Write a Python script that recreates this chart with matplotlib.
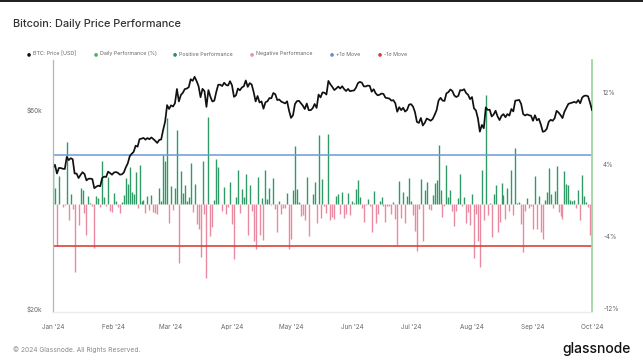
import pandas as pd
import matplotlib
matplotlib.use("Agg")
from matplotlib import pyplot as plt
from matplotlib import dates as mdates
from matplotlib import transforms

plt.rcParams['font.family'] = ['Inter', 'DejaVu Sans']

# daily BTC price (USD), 2024-01-01 .. 2024-10-01
price = [
    # Jan
    44168, 44958, 42848, 44180, 44162, 43989, 43943, 46970, 46139, 46628,
    46368, 42853, 42842, 41796, 42511, 43154, 42742, 41262, 41619, 41665,
    41545, 39507, 39845, 40077, 39934, 41816, 42120, 42035, 43288, 42952, 42582,
    # Feb
    43082, 43200, 43011, 42583, 42658, 43084, 44318, 45301, 47147, 47771,
    48293, 49958, 49699, 51811, 51938, 52160, 51663, 52122, 51780, 52284,
    51839, 51304, 50731, 51571, 51733, 54522, 57085, 62504, 61198,
    # Mar
    62440, 62029, 63167, 68330, 63801, 66106, 66925, 68300, 68498, 69019,
    72123, 71482, 73083, 71397, 69403, 65315, 68390, 67548, 61912, 67913,
    65491, 63779, 64062, 67234, 69958, 69987, 69455, 70744, 69892, 69645, 71333,
    # Apr
    69702, 65446, 65980, 68508, 67837, 68896, 69362, 71631, 69139, 70587,
    70060, 67195, 63821, 65738, 63426, 63811, 61276, 63512, 63843, 64994,
    64926, 66837, 66407, 64276, 64481, 63755, 63419, 63113, 63841, 60636,
    # May
    58254, 59123, 62889, 63892, 64031, 63161, 62334, 61187, 63049, 60793,
    60794, 61448, 62901, 61553, 66267, 65232, 67051, 66940, 66278, 71448,
    70136, 69122, 67929, 68526, 69265, 68518, 69394, 68296, 67578, 68364, 67491,
    # Jun
    67706, 67751, 68804, 70567, 71082, 70757, 69342, 69305, 69648, 69512,
    67332, 68241, 66757, 66011, 66192, 66639, 66491, 65140, 64961, 64828,
    64097, 64253, 63180, 60277, 61804, 60811, 61605, 60320, 60887, 62678,
    # Jul
    62851, 62029, 60173, 56977, 56663, 58231, 55857, 56714, 58052, 57725,
    57344, 57899, 59231, 60787, 64114, 65092, 64118, 63974, 66710, 67164,
    68154, 67585, 65927, 65372, 65777, 67912, 67813, 68256, 66819, 66201, 64620,
    # Aug
    65357, 61415, 60680, 58116, 53992, 56034, 55027, 61710, 60881, 60945,
    58719, 59354, 60610, 58739, 57561, 58894, 59478, 58483, 59493, 59012,
    61175, 60381, 64094, 64178, 64333, 62880, 59504, 59027, 59389, 59119, 58969,
    # Sep
    57326, 59113, 57485, 57971, 56160, 53949, 54140, 54841, 57019, 57649,
    57343, 58127, 60571, 60005, 59182, 58192, 60309, 61649, 62940, 63192,
    63394, 63648, 63329, 64301, 63143, 65181, 65790, 65888, 65635, 63329,
    # Oct
    60837,
]

# daily performance (%)
perf = [
    # Jan
    4.5, 1.8, -4.7, 3.1, -0.0, -0.4, -0.1, 6.9, -1.8, 1.1,
    -0.6, -7.6, -0.0, -2.4, 1.7, 1.5, -1.0, -3.5, 0.9, 0.1,
    -0.3, -4.9, 0.9, 0.6, -0.4, 4.7, 0.7, -0.2, 3.0, -0.8, -0.9,
    # Feb
    1.2, 0.3, -0.4, -1.0, 0.2, 1.0, 2.9, 2.2, 4.1, 1.3,
    1.1, 3.5, -0.5, 4.3, 0.3, 0.4, -1.0, 0.9, -0.7, 1.0,
    -0.9, -1.0, -1.1, 1.7, 0.3, 5.4, 4.7, 9.5, -2.1,
    # Mar
    2.0, -0.7, 1.8, 8.2, -6.6, 3.6, 1.2, 2.1, 0.3, 0.8,
    4.5, -0.9, 2.2, -2.3, -2.8, -5.9, 4.7, -1.2, -8.3, 9.7,
    -3.6, -2.6, 0.4, 5.0, 4.1, 0.0, -0.8, 1.9, -1.2, -0.4, 2.4,
    # Apr
    -2.3, -6.1, 0.8, 3.8, -1.0, 1.6, 0.7, 3.3, -3.5, 2.1,
    -0.8, -4.1, -5.0, 3.0, -3.5, 0.6, -4.0, 3.7, 0.5, 1.8,
    -0.1, 2.9, -0.6, -3.2, 0.3, -1.1, -0.5, -0.5, 1.2, -5.0,
    # May
    -3.9, 1.5, 6.4, 1.6, 0.2, -1.4, -1.3, -1.8, 3.0, -3.6,
    0.0, 1.1, 2.4, -2.1, 7.7, -1.6, 2.8, -0.2, -1.0, 7.8,
    -1.8, -1.5, -1.7, 0.9, 1.1, -1.1, 1.3, -1.6, -1.1, 1.2, -1.3,
    # Jun
    0.3, 0.1, 1.6, 2.6, 0.7, -0.5, -2.0, -0.1, 0.5, -0.2,
    -3.1, 1.4, -2.2, -1.1, 0.3, 0.7, -0.2, -2.0, -0.3, -0.2,
    -1.1, 0.2, -1.7, -4.6, 2.5, -1.6, 1.3, -2.1, 0.9, 2.9,
    # Jul
    0.3, -1.3, -3.0, -5.3, -0.6, 2.8, -4.1, 1.5, 2.4, -0.6,
    -0.7, 1.0, 2.3, 2.6, 6.5, 1.5, -1.5, -0.2, 4.3, 0.7,
    1.5, -0.8, -2.5, -0.8, 0.6, 3.3, -0.2, 0.7, -2.1, -0.9, -2.4,
    # Aug
    1.1, -6.0, -1.2, -4.2, -7.1, 3.8, -1.8, 12.1, -1.3, 0.1,
    -3.7, 1.1, 2.1, -3.1, -2.0, 2.3, 1.0, -1.7, 1.7, -0.8,
    3.7, -1.3, 6.2, 0.1, 0.2, -2.3, -5.4, -0.8, 0.6, -0.5, -0.3,
    # Sep
    -2.8, 3.1, -2.8, 0.9, -3.1, -3.9, 0.4, 1.3, 4.0, 1.1,
    -0.5, 1.4, 4.2, -0.9, -1.4, -1.7, 3.6, 2.2, 2.1, 0.4,
    0.3, 0.4, -0.5, 1.5, -1.8, 3.2, 0.9, 0.2, -0.4, -3.5,
    # Oct
    -3.9,
]

sigma_up = 5.4      # +1 sigma move (%)
sigma_down = -4.75  # -1 sigma move (%)

price_ticks = [20000, 60000]
price_labels = ['$20k', '$60k']
perf_ticks = [-12, -4, 4, 12]
perf_labels = ['-12%', '-4%', '4%', '12%']

legend_items = [
    ('BTC: Price [USD]', '#111111'),
    ('Daily Performance (%)', '#4caf50'),
    ('Positive Performance', '#2e8b5f'),
    ('Negative Performance', '#ef8fa3'),
    ('+1σ Move', '#5b8fd6'),
    ('-1σ Move', '#d93a3a'),
]


def main():
    dates = pd.date_range('2024-01-01', periods=len(price), freq='D')
    up_dates = [d for d, p in zip(dates, perf) if p > 0]
    up_vals = [p for p in perf if p > 0]
    dn_dates = [d for d, p in zip(dates, perf) if p < 0]
    dn_vals = [p for p in perf if p < 0]

    W, H = 643, 362
    fig = plt.figure(figsize=(W / 100, H / 100), dpi=100)
    fig.patch.set_facecolor('white')

    left, right, top, bottom = 53, 592, 60, 311.5
    ax = fig.add_axes([left / W, 1 - bottom / H, (right - left) / W, (bottom - top) / H])
    ax2 = ax.twinx()
    ax.set_zorder(ax2.get_zorder() + 1)
    ax.patch.set_visible(False)

    # performance bars
    ax2.vlines(up_dates, 0, up_vals, color='#2f9a66', lw=1.0)
    ax2.vlines(dn_dates, dn_vals, 0, color='#e98aa0', lw=1.0)
    ax2.plot(dates, [sigma_up] * len(dates), color='#6b9bd2', lw=1.1)
    ax2.plot(dates, [sigma_down] * len(dates), color='#d9423d', lw=1.2)
    ax2.set_ylim(-12, 16)
    ax2.set_yticks(perf_ticks)
    ax2.set_yticklabels(perf_labels)

    # price line
    ax.plot(dates, price, color='#111111', lw=1.25)
    ax.set_yscale('log')
    ax.set_ylim(20000, 80200)
    ax.yaxis.set_minor_locator(matplotlib.ticker.NullLocator())
    ax.set_yticks(price_ticks)
    ax.set_yticklabels(price_labels)

    ax.set_xlim(pd.Timestamp('2024-01-01'), pd.Timestamp('2024-10-01'))
    ax.xaxis.set_major_locator(mdates.MonthLocator())
    ax.xaxis.set_major_formatter(mdates.DateFormatter("%b '%y"))

    for a in (ax, ax2):
        a.tick_params(length=0, labelsize=4.6, labelcolor='#666666')
        for s in a.spines.values():
            s.set_visible(False)
    ax.tick_params(axis='x', pad=9)
    ax.tick_params(axis='y', pad=8)
    ax2.tick_params(axis='y', pad=8)

    ax.spines['left'].set_visible(True)
    ax.spines['left'].set_color('#b5b5b5')
    ax.spines['left'].set_linewidth(0.9)
    ax2.spines['right'].set_visible(True)
    ax2.spines['right'].set_color('#9fd89f')
    ax2.spines['right'].set_linewidth(1.3)
    ax.spines['bottom'].set_visible(True)
    ax.spines['bottom'].set_color('#ececec')
    ax.spines['bottom'].set_linewidth(1.0)

    shift = transforms.ScaledTranslation(0, 3 / 100, fig.dpi_scale_trans)
    for lab in ax.get_yticklabels() + ax2.get_yticklabels():
        lab.set_transform(lab.get_transform() + shift)

    # title, legend, footer
    fig.text(13 / W, 1 - 24 / H, 'Bitcoin: Daily Price Performance', fontsize=7.9,
             color='#333333', va='center', ha='left', fontweight='medium')

    xs = [29, 96, 175, 252, 332, 380]
    for (label, col), x in zip(legend_items, xs):
        fig.text(x / W, 1 - 54 / H, '●', fontsize=3.4, color=col, va='center', ha='center',
                 family='DejaVu Sans')
        fig.text((x + 4) / W, 1 - 54 / H, label, fontsize=3.8, color='#666666',
                 va='center', ha='left')

    fig.text(13 / W, 1 - 350 / H, '© 2024 Glassnode. All Rights Reserved.', fontsize=4.8,
             color='#8a8a8a', va='center', ha='left')
    fig.text(631 / W, 1 - 349 / H, 'glassnode', fontsize=10, color='#111111',
             va='center', ha='right', fontweight='medium')

    fig.add_artist(plt.Rectangle((0, 1 - 2 / H), 1, 2 / H, transform=fig.transFigure,
                                 color='#222222', lw=0))

    fig.savefig('out.png', dpi=100)


if __name__ == "__main__":
    main()
